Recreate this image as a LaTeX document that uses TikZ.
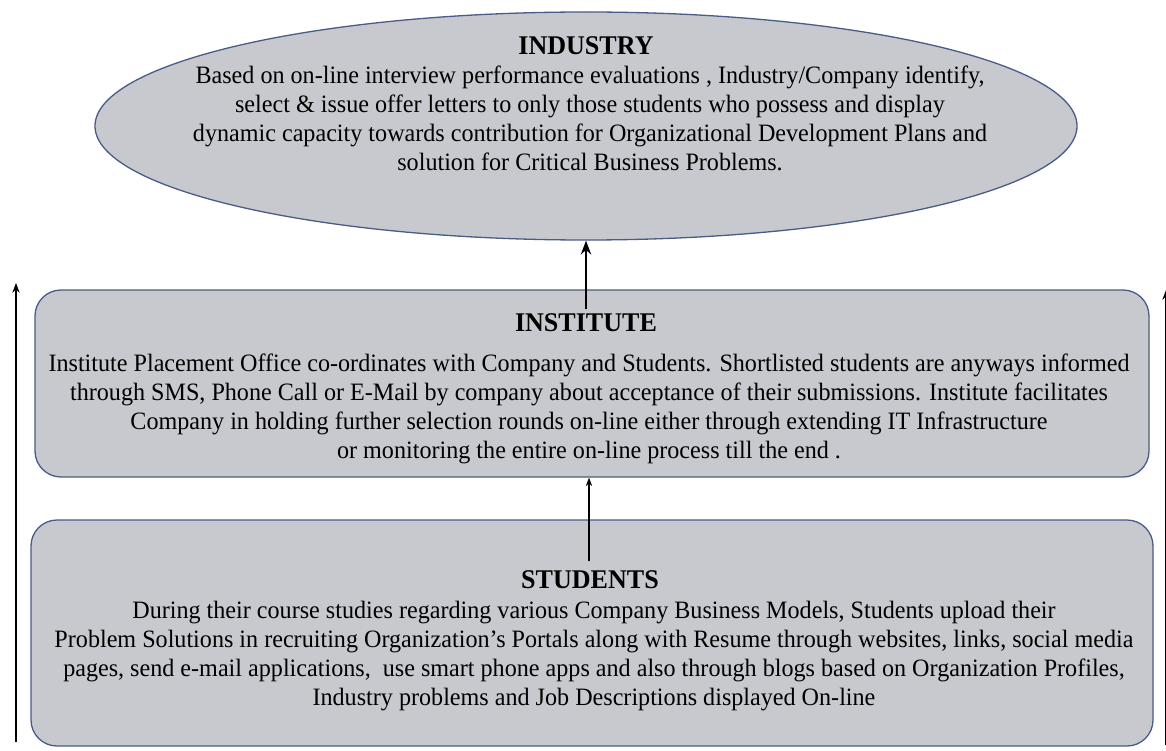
\documentclass[tikz,border=0pt]{standalone}
\usepackage{fontspec}
\setmainfont{Liberation Serif}[FakeStretch=0.965]
\definecolor{boxfill}{RGB}{200,201,207}
\definecolor{boxline}{RGB}{72,92,135}
\usetikzlibrary{shapes.geometric, arrows.meta, positioning}

\begin{document}
\begin{tikzpicture}[x=1pt, y=-1pt,
    level/.style={draw=boxline, fill=boxfill, line width=1.3pt, inner sep=0pt},
    body/.style={align=center, inner sep=0pt, font=\fontsize{25}{29}\selectfont},
    heading/.style={inner sep=0pt, font=\fontsize{27}{29}\selectfont\bfseries}]
    \useasboundingbox (0,0) rectangle (1166,751);

    % Industry
    \node[level, ellipse, minimum width=982pt, minimum height=228pt] (industry) at (586,126) {};
    \node[heading] (industryhead) at (586,46) {INDUSTRY};
    \node[body, anchor=north] (industrytext) at (590,66) {Based on on-line interview performance evaluations , Industry/Company identify,\\
        select \& issue offer letters to only those students who possess and display\\
        dynamic capacity towards contribution for Organizational Development Plans and\\
        solution for Critical Business Problems.};

    % Institute
    \node[level, rounded corners=26pt, minimum width=1114pt, minimum height=187pt] (institute) at (592,383.5) {};
    \node[heading] (institutehead) at (586,323) {INSTITUTE};
    \node[body, anchor=north] (institutetext) at (589,354) {Institute Placement Office co-ordinates with Company and Students. Shortlisted students are anyways informed\\
        through SMS, Phone Call or E-Mail by company about acceptance of their submissions. Institute facilitates\\
        Company in holding further selection rounds on-line either through extending IT Infrastructure\\
        or monitoring the entire on-line process till the end .};

    % Students
    \node[level, rounded corners=26pt, minimum width=1122pt, minimum height=226pt] (students) at (592,633) {};
    \node[heading] (studentshead) at (590,580) {STUDENTS};
    \node[body, anchor=north] (studentstext) at (594,601) {During their course studies regarding various Company Business Models, Students upload their\\
        Problem Solutions in recruiting Organization's Portals along with Resume through websites, links, social media\\
        pages, send e-mail applications,\ \ use smart phone apps and also through blogs based on Organization Profiles,\\
        Industry problems and Job Descriptions displayed On-line};

    % arrows
    \draw[-{Stealth}, line width=2.4pt] ([yshift=-20pt]industry.south |- institute.north) -- (industry.south);
    \draw[-{Stealth}, line width=1.2pt] ([xshift=-3pt,yshift=-42pt]students.north) -- ([xshift=-3pt]institute.south);
    \coordinate (leftfoot) at (16,742);
    \coordinate (lefttop) at (16,283);
    \draw[-{Stealth}, line width=1.5pt] (leftfoot) -- (lefttop);
    \coordinate (rightfoot) at (1166,745);
    \coordinate (righttop) at (1166,290);
    \draw[-{Stealth}, line width=1.5pt] (rightfoot) -- (righttop);
\end{tikzpicture}
\end{document}
